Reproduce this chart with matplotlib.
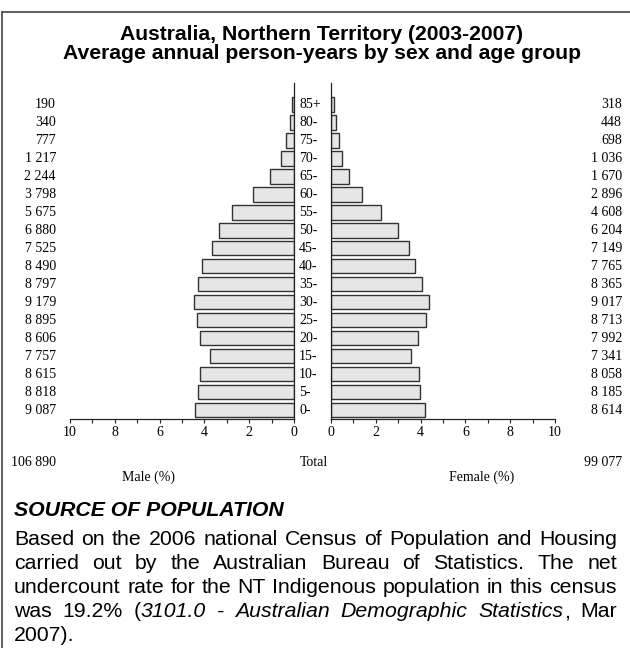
import numpy as np
import matplotlib
matplotlib.use('Agg')
import matplotlib.pyplot as plt
from matplotlib.transforms import blended_transform_factory
from matplotlib.lines import Line2D

# age groups, bottom to top
ages = ['0-', '5-', '10-', '15-', '20-', '25-', '30-', '35-', '40-',
        '45-', '50-', '55-', '60-', '65-', '70-', '75-', '80-', '85+']
male = [9087, 8818, 8615, 7757, 8606, 8895, 9179, 8797, 8490,
        7525, 6880, 5675, 3798, 2244, 1217, 777, 340, 190]
female = [8614, 8185, 8058, 7341, 7992, 8713, 9017, 8365, 7765,
          7149, 6204, 4608, 2896, 1670, 1036, 698, 448, 318]

title_lines = ["Australia, Northern Territory (2003-2007)",
               "Average annual person-years by sex and age group"]
source_head = "SOURCE OF POPULATION"
# words between * are italic
source_lines = [
    "Based on the 2006 national Census of Population and Housing",
    "carried out by the Australian Bureau of Statistics. The net",
    "undercount rate for the NT Indigenous population in this census",
    "was 19.2% (*3101.0 - Australian Demographic Statistics*, Mar",
    "2007).",
]

W, H = 630, 648
SANS = 'Liberation Sans'
plt.rcParams['font.family'] = 'Liberation Serif'
NUM_SIZE = 10
BODY_SIZE = 15.3


def fx(x):
    return x / W


def fy(y):
    return 1 - y / H


def fmt(v):
    return f"{v:,}".replace(',', ' ')


male_total = sum(male)
female_total = sum(female)
grand = male_total + female_total
male_pct = np.array(male) / grand * 100
female_pct = np.array(female) / grand * 100
ypos = np.arange(len(ages))

fig = plt.figure(figsize=(W / 100, H / 100), dpi=100)

ax_m = fig.add_axes([fx(70), fy(419), fx(294) - fx(70), (419 - 83) / H])
ax_f = fig.add_axes([fx(331), fy(419), fx(555) - fx(331), (419 - 83) / H])

bar_kw = dict(height=0.8, color='#e6e6e6', edgecolor='#333333', linewidth=1.0)
ax_m.barh(ypos, male_pct, **bar_kw)
ax_f.barh(ypos, female_pct, **bar_kw)
ax_m.set_xlim(10, 0)
ax_f.set_xlim(0, 10)

for ax, inner, outer in [(ax_m, 'right', 'left'), (ax_f, 'left', 'right')]:
    ax.set_ylim(-0.5, 18.2)
    ax.set_yticks([])
    ax.spines['top'].set_visible(False)
    ax.spines[outer].set_visible(False)
    ax.spines[inner].set_color('#222222')
    ax.spines['bottom'].set_color('#222222')
    ax.spines[inner].set_linewidth(0.9)
    ax.spines['bottom'].set_linewidth(0.9)
    ax.set_xticks(range(0, 11, 2))
    ax.set_xticks(range(1, 10, 2), minor=True)
    ax.tick_params(axis='x', which='both', direction='out', length=2.6,
                   width=0.8, pad=2.5, labelsize=NUM_SIZE, color='#222222')

trans = blended_transform_factory(fig.transFigure, ax_m.transData)
for i in range(len(ages)):
    ax_m.text(fx(56), ypos[i], fmt(male[i]), ha='right', va='center',
              fontsize=NUM_SIZE, transform=trans)
    ax_m.text(fx(622), ypos[i], fmt(female[i]), ha='right', va='center',
              fontsize=NUM_SIZE, transform=trans)
    ax_m.text(fx(299), ypos[i], ages[i], ha='left', va='center',
              fontsize=NUM_SIZE, transform=trans)

fig.text(fx(56), fy(462), fmt(male_total), ha='right', va='center', fontsize=NUM_SIZE)
fig.text(fx(314), fy(462), 'Total', ha='center', va='center', fontsize=NUM_SIZE)
fig.text(fx(622), fy(462), fmt(female_total), ha='right', va='center', fontsize=NUM_SIZE)
fig.text(fx(148), fy(477), 'Male (%)', ha='center', va='center', fontsize=NUM_SIZE)
fig.text(fx(482), fy(477), 'Female (%)', ha='center', va='center', fontsize=NUM_SIZE)

# title
fig.text(fx(322), fy(40), title_lines[0], ha='center', va='baseline',
         fontsize=15.2, fontweight='bold', family=SANS)
fig.text(fx(322), fy(59), title_lines[1], ha='center', va='baseline',
         fontsize=15.2, fontweight='bold', family=SANS)

# frame (top and left only)
fig.add_artist(Line2D([fx(2), 1], [fy(12), fy(12)], transform=fig.transFigure,
                      color='#444444', lw=1.2))
fig.add_artist(Line2D([fx(2), fx(2)], [fy(12), 0], transform=fig.transFigure,
                      color='#444444', lw=1.2))

# source note, justified between x0 and x1
fig.text(fx(14), fy(516), source_head, ha='left', va='baseline', fontsize=BODY_SIZE,
         fontweight='bold', style='italic', family=SANS)

renderer = fig.canvas.get_renderer()


def seg_width(txt, italic):
    t = fig.text(0, 0, txt, fontsize=BODY_SIZE, family=SANS,
                 style='italic' if italic else 'normal')
    w = t.get_window_extent(renderer=renderer).width
    t.remove()
    return w


x0, x1 = 14, 617
baselines = [545, 569, 593, 617, 641]
italic = False
for n, line in enumerate(source_lines):
    words = []
    for raw in line.split(' '):
        segs = []
        for k, part in enumerate(raw.split('*')):
            if k > 0:
                italic = not italic
            if part:
                segs.append((part, italic))
        words.append(segs)
    widths = [[seg_width(s, it) for s, it in segs] for segs in words]
    total = sum(sum(w) for w in widths)
    if n < len(source_lines) - 1 and len(words) > 1:
        gap = (x1 - x0 - total) / (len(words) - 1)
    else:
        gap = seg_width('a b', False) - seg_width('ab', False)
    x = x0
    for segs, ws in zip(words, widths):
        for (s, it), w in zip(segs, ws):
            fig.text(fx(x), fy(baselines[n]), s, ha='left', va='baseline',
                     fontsize=BODY_SIZE, family=SANS,
                     style='italic' if it else 'normal')
            x += w
        x += gap

fig.savefig('out.png', dpi=100)
